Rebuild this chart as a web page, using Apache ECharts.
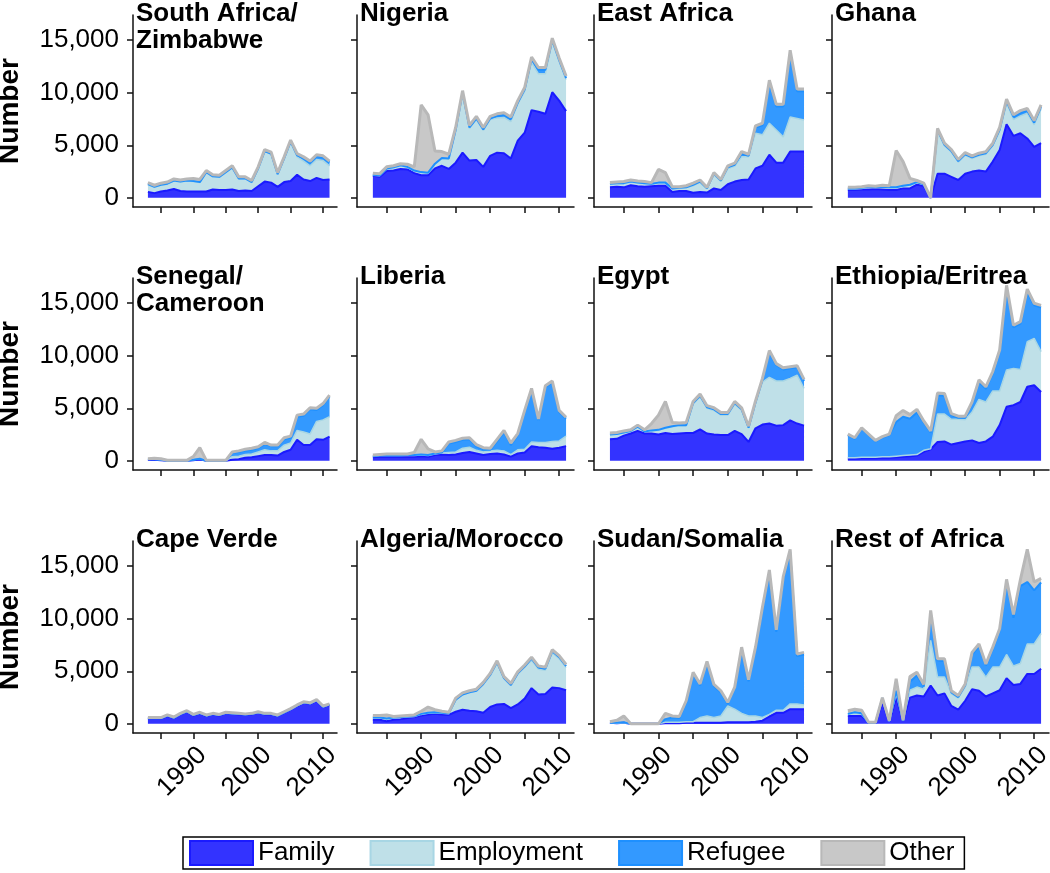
<!DOCTYPE html>
<html><head><meta charset="utf-8">
<script src="https://cdn.jsdelivr.net/npm/echarts@6/dist/echarts.min.js"></script>
<style>html,body{margin:0;padding:0;background:#fff}#c{width:1050px;height:873px}</style>
</head><body><div id="c"></div>
<script>
const years = [1983,1984,1985,1986,1987,1988,1989,1990,1991,1992,1993,1994,1995,1996,1997,1998,1999,2000,2001,2002,2003,2004,2005,2006,2007,2008,2009,2010,2011];
const seriesNames = ['Family','Employment','Refugee','Other'];
const panelTitles = ['South Africa/\nZimbabwe','Nigeria','East Africa','Ghana','Senegal/\nCameroon','Liberia','Egypt','Ethiopia/Eritrea','Cape Verde','Algeria/Morocco','Sudan/Somalia','Rest of Africa'];
const xTicks = [1985,1990,1995,2000,2005,2010];
const xTickLabels = [1990,2000,2010];
const yTicks = [0,5000,10000,15000];

const safFamily = [570,450,600,700,850,650,600,600,600,600,800,750,750,800,650,700,650,1100,1550,1450,1050,1500,1600,2200,1750,1600,1900,1700,1750];
const safEmployment = [680,550,600,600,750,850,1000,950,850,1800,1200,1200,1650,2050,1150,1100,800,1650,2850,2700,1150,2200,3700,1700,1750,1450,1750,1850,1300];
const safRefugee = [50,50,50,50,50,50,50,50,50,50,50,50,50,50,50,50,50,50,50,50,50,50,50,150,250,300,300,300,300];
const safOther = [150,150,150,150,150,150,150,250,250,150,150,150,150,150,150,150,150,150,150,150,150,150,150,150,150,150,150,150,150];

const ngaFamily = [2100,2000,2550,2600,2750,2700,2350,2150,2150,2800,3050,2750,3350,4300,3550,3600,2950,4000,4300,4250,3750,5450,6200,8350,8200,8000,10050,9250,8250];
const ngaEmployment = [50,100,200,250,300,200,200,250,200,400,700,950,3050,5650,3050,3850,3450,3450,3300,3400,3500,3500,3950,4550,3600,3800,4800,3700,3000];
const ngaRefugee = [50,50,50,50,50,50,50,50,50,50,50,50,50,50,100,100,100,100,200,250,250,100,150,300,400,400,150,150,150];
const ngaOther = [150,150,150,150,150,250,350,6400,5500,1200,600,400,250,200,200,200,200,200,200,200,200,200,200,200,200,200,200,200,200];

const eafFamily = [1000,1050,1000,1200,1100,1050,1100,1150,1150,550,650,650,480,550,500,900,750,1300,1550,1700,1750,2800,3050,4100,3350,3350,4400,4400,4400];
const eafEmployment = [300,300,350,300,300,300,200,250,250,300,250,300,670,900,350,1300,800,1500,1450,2200,2150,3350,2950,3000,3100,2450,3300,3150,3000];
const eafRefugee = [50,50,50,50,50,50,50,50,50,50,50,50,100,100,50,100,100,100,150,300,100,550,900,3900,2250,2900,6100,2600,2750];
const eafOther = [100,100,150,150,150,150,100,1250,950,150,100,150,150,150,100,100,100,150,150,200,150,150,200,200,200,200,250,200,200];

const ghaFamily = [750,750,800,800,850,800,750,750,900,900,1250,1150,0,2300,2300,2000,1700,2300,2500,2600,2500,3450,4550,7000,5900,6150,5650,4850,5200];
const ghaEmployment = [100,100,100,200,100,200,200,200,200,300,200,100,0,4050,2650,2350,1700,1750,1250,1400,1650,1500,1800,2000,1550,1650,2400,2100,3250];
const ghaRefugee = [50,50,50,50,50,50,50,50,50,50,50,50,0,100,100,100,100,100,100,100,100,100,150,200,250,300,250,200,200];
const ghaOther = [100,100,100,100,100,150,150,3500,2300,600,150,100,0,150,150,150,150,150,150,150,150,150,200,200,200,200,200,200,200];

const senFamily = [100,100,50,0,0,0,0,50,150,0,0,0,0,100,150,300,350,450,550,550,500,850,1050,2000,1500,1500,2050,2000,2300];
const senEmployment = [50,50,50,0,0,0,0,50,50,0,0,0,0,300,300,300,300,400,500,400,450,650,650,900,1250,1050,1700,1900,1900];
const senRefugee = [0,0,0,0,0,0,0,0,0,0,0,0,0,350,400,350,400,350,550,450,450,550,500,1300,1550,2350,1100,1400,1900];
const senOther = [50,100,100,50,50,50,50,300,1050,50,50,50,50,100,100,150,150,150,150,100,100,150,150,150,150,150,150,150,150];

const lbrFamily = [350,400,400,400,400,400,400,450,400,550,600,550,600,750,850,700,550,650,700,600,400,700,800,1400,1300,1250,1150,1250,1400];
const lbrEmployment = [100,100,100,100,100,100,100,100,100,100,150,250,250,450,450,300,300,300,300,350,200,350,300,400,450,500,700,650,950];
const lbrRefugee = [0,0,0,0,0,50,50,50,50,50,50,850,950,800,750,350,250,100,850,1800,900,1400,3550,4950,2100,5250,5600,2750,1650];
const lbrOther = [100,100,150,150,150,100,250,1450,600,150,150,150,150,150,150,200,150,150,200,150,200,150,150,150,150,150,150,150,150];

const egyFamily = [2050,2100,2400,2600,2850,2600,2600,2500,2650,2550,2600,2650,2650,3000,2600,2500,2450,2450,2850,2550,1800,3100,3450,3550,3350,3400,3850,3550,3350];
const egyEmployment = [450,450,300,250,400,200,250,400,450,700,750,700,2750,3100,2400,2300,1900,1900,2550,2250,1300,2350,4050,4400,4250,4200,4000,4600,3550];
const egyRefugee = [0,0,0,0,0,0,50,50,50,50,50,50,100,100,100,100,100,100,100,100,50,100,200,2400,1500,1100,950,750,700];
const egyOther = [150,150,150,100,150,150,650,1400,2500,350,200,250,150,150,150,150,150,150,150,150,150,150,150,150,150,150,150,150,150];

const ethFamily = [200,200,250,250,250,300,300,350,400,450,500,850,1100,1800,1850,1550,1700,1850,1950,1700,1850,2300,3400,5150,5300,5600,7050,7200,6550];
const ethEmployment = [100,100,100,100,100,100,100,100,100,100,100,150,50,2650,2600,2400,2250,2050,2700,4150,3750,4350,3250,3500,3500,3100,4300,4450,3850];
const ethRefugee = [2150,1800,2700,2100,1500,1800,2050,3250,3700,3450,4000,2650,1550,1800,1750,400,150,200,800,1650,1250,1650,3700,7750,3900,4350,4700,3150,4200];
const ethOther = [100,100,100,100,100,100,100,600,600,400,300,150,150,200,200,150,150,150,150,200,200,200,200,300,200,200,300,200,200];

const cpvFamily = [500,500,500,750,550,900,1150,800,1000,750,900,800,1000,950,900,850,900,1050,900,900,750,1050,1350,1700,2000,1900,2200,1600,1800];
const cpvEmployment = [30,30,30,30,30,30,30,30,30,30,30,30,30,30,30,30,30,30,30,30,30,30,30,30,30,30,30,30,30];
const cpvRefugee = [0,0,0,0,0,0,0,0,0,0,0,0,0,0,0,0,0,0,0,0,0,0,0,0,0,0,0,0,0];
const cpvOther = [70,70,70,70,70,70,70,70,70,70,70,70,70,70,70,70,70,70,70,70,70,70,70,70,70,70,70,70,70];

const dzaFamily = [400,400,250,400,450,550,650,800,900,950,900,850,1150,1350,1250,1200,1050,1600,1850,1900,1500,1850,2400,3400,2800,2850,3450,3400,3200];
const dzaEmployment = [150,150,200,150,150,100,50,100,100,100,100,100,1100,1400,1700,1900,2700,3000,3950,2400,2150,2900,3000,2650,2400,2250,3300,2800,2150];
const dzaRefugee = [50,50,50,50,50,50,50,50,50,50,50,50,50,50,50,50,50,50,50,50,50,50,50,150,150,150,150,150,150];
const dzaOther = [200,200,350,100,100,100,100,250,550,250,150,100,150,150,150,150,150,150,150,150,150,150,150,150,150,150,150,150,150];

const sdnFamily = [100,50,100,0,0,0,0,0,50,50,50,100,100,100,100,100,100,150,150,150,150,200,300,700,1050,1050,1400,1400,1400];
const sdnEmployment = [0,0,0,0,0,0,0,0,100,100,100,100,100,500,650,500,650,1550,1250,850,600,550,300,200,250,250,500,500,400];
const sdnRefugee = [0,50,50,0,0,0,0,0,300,450,400,1850,4550,3050,5050,3000,2250,200,1950,6150,3300,6400,10300,13550,7450,12500,14450,4550,4800];
const sdnOther = [100,250,600,0,0,0,0,0,550,150,150,150,150,150,150,150,150,150,150,150,150,150,200,200,200,200,250,200,200];

const rafFamily = [750,750,750,100,100,2000,200,2500,300,2500,2700,2600,3650,2700,2900,1700,1350,2200,3300,3150,2600,2900,3200,4350,3700,3800,4750,4750,5250];
const rafEmployment = [150,250,150,0,0,250,50,350,0,700,800,700,4300,1750,1550,1150,1100,1300,2100,2250,1850,2500,2200,2250,1800,1950,2850,2850,3350];
const rafRefugee = [50,100,100,0,0,200,0,300,0,800,1100,250,2600,1600,1500,150,100,150,1200,2000,1100,1700,3450,6900,4600,7350,5900,5100,4850];
const rafOther = [300,300,300,50,50,50,50,1150,50,500,300,200,250,150,250,150,150,150,200,200,150,200,200,250,300,600,3100,800,400];

const panelData = [
  [safFamily, safEmployment, safRefugee, safOther],
  [ngaFamily, ngaEmployment, ngaRefugee, ngaOther],
  [eafFamily, eafEmployment, eafRefugee, eafOther],
  [ghaFamily, ghaEmployment, ghaRefugee, ghaOther],
  [senFamily, senEmployment, senRefugee, senOther],
  [lbrFamily, lbrEmployment, lbrRefugee, lbrOther],
  [egyFamily, egyEmployment, egyRefugee, egyOther],
  [ethFamily, ethEmployment, ethRefugee, ethOther],
  [cpvFamily, cpvEmployment, cpvRefugee, cpvOther],
  [dzaFamily, dzaEmployment, dzaRefugee, dzaOther],
  [sdnFamily, sdnEmployment, sdnRefugee, sdnOther],
  [rafFamily, rafEmployment, rafRefugee, rafOther]
];

const fills = ['#3333ff', '#bfe0e8', '#3399ff', '#c8c8c8'];
const strokes = ['#1a1aff', '#a8d6e4', '#1e90ff', '#b8b8b8'];
const strokeW = [2, 1.5, 2, 3];

const colLeft = [133, 357, 594, 832];
const colWidth = [204, 217, 218, 217];
const rowTop = [15, 278, 541];
const rowH = 192;
const FONT = 'Liberation Sans, Arial, Helvetica, sans-serif';

const grids = [], xAxes = [], yAxes = [], titles = [], series = [];
for (let i = 0; i < 12; i++) {
  const r = Math.floor(i / 4), c = i % 4;
  grids.push({ left: colLeft[c], top: rowTop[r], width: colWidth[c], height: rowH, containLabel: false, outerBoundsMode: 'none' });
  xAxes.push({
    gridIndex: i, type: 'value', min: 1980.7, max: 2012.15,
    axisLine: { onZero: false, lineStyle: { color: '#111', width: 1.5 } },
    axisTick: { customValues: xTicks, length: 6, lineStyle: { color: '#111', width: 1.5 } },
    axisLabel: { show: r === 2, customValues: xTickLabels, rotate: 45, fontSize: 26, color: '#000', fontFamily: FONT,
      margin: 9, verticalAlign: 'top', formatter: v => String(v) },
    splitLine: { show: false }
  });
  yAxes.push({
    gridIndex: i, type: 'value', min: -870, max: 17400,
    axisLine: { show: true, onZero: false, lineStyle: { color: '#111', width: 1.5 } },
    axisTick: { show: true, customValues: yTicks, length: 6, lineStyle: { color: '#111', width: 1.5 } },
    axisLabel: { show: c === 0, customValues: yTicks, fontSize: 26, color: '#000', fontFamily: FONT, margin: 14,
      formatter: v => Number(v).toLocaleString('en-US') },
    splitLine: { show: false },
    name: c === 0 ? 'Number' : '', nameLocation: 'middle', nameGap: 109,
    nameTextStyle: { fontSize: 28, fontWeight: 'bold', color: '#000', fontFamily: FONT }
  });
  titles.push({
    text: panelTitles[i], left: colLeft[c] + 3, top: rowTop[r] - 15, padding: 0,
    textStyle: { fontSize: 26, fontWeight: 'bold', color: '#000', fontFamily: FONT, lineHeight: 27 }
  });
  for (let s = 0; s < 4; s++) {
    const arr = panelData[i][s];
    series.push({
      type: 'line', name: seriesNames[s], xAxisIndex: i, yAxisIndex: i, stack: 'p' + i,
      data: years.map((y, k) => [arr[k], y]),
      encode: { x: 1, y: 0 },
      symbol: 'none', silent: true,
      lineStyle: { color: strokes[s], width: strokeW[s] },
      areaStyle: { color: fills[s], opacity: 1 },
      itemStyle: { color: fills[s] },
      emphasis: { disabled: true }
    });
  }
}

const chart = echarts.init(document.getElementById('c'), null, { renderer: 'canvas' });
chart.setOption({
  animation: false,
  backgroundColor: '#fff',
  textStyle: { fontFamily: FONT },
  title: titles,
  grid: grids,
  xAxis: xAxes,
  yAxis: yAxes,
  legend: {
    data: seriesNames.map((n, s) => ({ name: n, icon: 'rect', itemStyle: { color: fills[s], borderColor: strokes[s], borderWidth: 2 } })),
    left: 183, top: 837, orient: 'horizontal',
    itemWidth: 63, itemHeight: 24, itemGap: 35,
    padding: [3, 10, 3, 6],
    borderColor: '#000', borderWidth: 1.5,
    selectedMode: false,
    textStyle: { fontSize: 26, color: '#000', fontFamily: FONT }
  },
  series: series
});
</script></body></html>
